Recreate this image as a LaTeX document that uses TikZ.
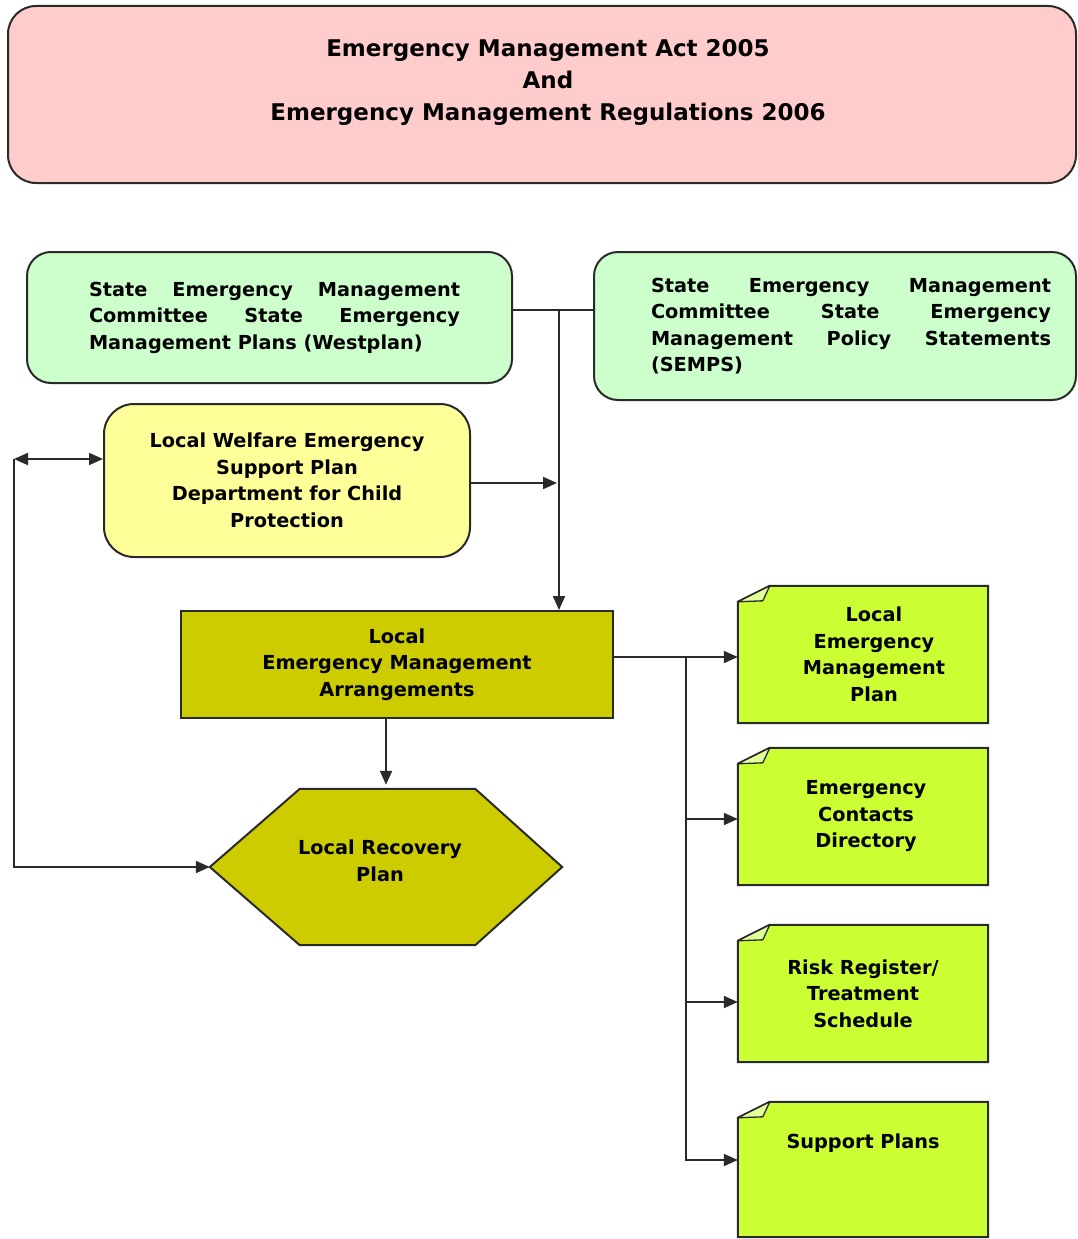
\documentclass[tikz,border=0pt]{standalone}
\usepackage{fontspec}
\setmainfont{DejaVu Sans}
\usetikzlibrary{arrows.meta,backgrounds,calc}
\definecolor{pinkfill}{HTML}{FFCCCC}
\definecolor{greenfill}{HTML}{CCFFCC}
\definecolor{yellowfill}{HTML}{FFFF99}
\definecolor{olivefill}{HTML}{CCCC00}
\definecolor{limefill}{HTML}{CCFF33}
\definecolor{foldfill}{HTML}{E2FF99}
\definecolor{linegray}{HTML}{2A2A2A}
\begin{document}
\begin{tikzpicture}[x=1pt,y=-1pt,
  txt/.style={font=\fontsize{19.3}{26.5}\selectfont\bfseries, align=center, text=black, inner sep=0pt},
  titletxt/.style={font=\fontsize{23}{32}\selectfont\bfseries, align=center, text=black, inner sep=0pt},
  box/.style={draw=linegray, line width=2pt, inner sep=0pt, txt},
  topbox/.style={box, fill=pinkfill, rounded corners=28pt, minimum width=1068pt, minimum height=177pt},
  greenbox/.style={box, fill=greenfill, rounded corners=24pt},
  yellowbox/.style={box, fill=yellowfill, rounded corners=30pt, minimum width=366pt, minimum height=153pt},
  lemabox/.style={box, fill=olivefill, minimum width=432pt, minimum height=107pt},
  hexbox/.style={txt, minimum width=352pt, minimum height=156pt},
  notebox/.style={txt, minimum width=250pt, minimum height=137pt},
  hexdraw/.style={draw=linegray, line width=2pt, fill=olivefill, line join=miter},
  notedraw/.style={draw=linegray, line width=2pt, fill=limefill, line join=miter},
  folddraw/.style={draw=linegray, line width=1.3pt, fill=foldfill, line join=round},
  conn/.style={draw=linegray, line width=2pt},
  arr/.style={conn, -{Triangle[length=14pt,width=12pt]}},
  dblarr/.style={conn, {Triangle[length=14pt,width=12pt]}-{Triangle[length=14pt,width=12pt]}}
]
\useasboundingbox (0,0) rectangle (1078,1239);

% top box
\node[topbox] (act) at (542,94.5) {};
\node[titletxt] (acttitle) at (548,82) {Emergency Management Act 2005\\And\\Emergency Management Regulations 2006};

% green boxes
\node[greenbox, minimum width=485pt, minimum height=131pt] (green1) at (269.5,317.5)
  {\hspace*{10pt}\makebox[371pt][s]{State Emergency Management}\\
   \hspace*{10pt}\makebox[371pt][s]{Committee State Emergency}\\
   \hspace*{10pt}\makebox[371pt][l]{Management Plans (Westplan)}};
\node[greenbox, minimum width=482pt, minimum height=148pt] (green2) at (835,326)
  {\hspace*{32pt}\makebox[400pt][s]{State Emergency Management}\\
   \hspace*{32pt}\makebox[400pt][s]{Committee State Emergency}\\
   \hspace*{32pt}\makebox[400pt][s]{Management Policy Statements}\\
   \hspace*{32pt}\makebox[400pt][l]{(SEMPS)}};

% yellow box
\node[yellowbox] (welfare) at (287,480.5) {Local Welfare Emergency\\Support Plan\\Department for Child\\Protection};

% LEMA
\node[lemabox] (lema) at (397,664.5) {Local\\Emergency Management\\Arrangements};

% hexagon
\node[hexbox] (hex) at (386,867) {};
\begin{scope}[on background layer]
\draw[hexdraw] (hex.west) -- ([xshift=90pt]hex.north west) -- ([xshift=-87pt]hex.north east)
  -- (hex.east) -- ([xshift=-87pt]hex.south east) -- ([xshift=90pt]hex.south west) -- cycle;
\end{scope}
\node[txt] (hextext) at (380,861) {Local Recovery\\Plan};

% notes
\node[notebox] (n1) at (863,654.5) {\hspace*{22pt}Local\\\hspace*{22pt}Emergency\\\hspace*{22pt}Management\\\hspace*{22pt}Plan};
\node[notebox] (n2) at (863,816.5) {\hspace*{6pt}Emergency\\\hspace*{6pt}Contacts\\\hspace*{6pt}Directory};
\node[notebox] (n3) at (863,993.5) {Risk Register/\\Treatment\\Schedule};
\node[notebox, minimum height=135pt] (n4) at (863,1169.5) {};
\node[txt] (n4text) at (863,1143) {Support Plans};
\begin{scope}[on background layer]
\foreach \n in {n1,n2,n3,n4}{
  \draw[notedraw] ([yshift=-16pt]\n.north west) -- ([xshift=32pt]\n.north west) -- (\n.north east)
    -- (\n.south east) -- (\n.south west) -- cycle;
  \draw[folddraw] ([yshift=-16pt]\n.north west) -- ([xshift=32pt]\n.north west)
    -- ([xshift=25pt,yshift=-15pt]\n.north west) -- cycle;
}
\end{scope}

% connectors
\coordinate (j1) at (559,310);
\draw[conn] (green1.east |- j1) -- (green2.west |- j1);
\draw[arr] (j1) -- (j1 |- lema.north);
\draw[arr] (welfare.east |- 0,483) -- ([xshift=-2pt]j1 |- 0,483);

\coordinate (lc) at (14,459);
\draw[dblarr] (lc) -- (welfare.west |- lc);
\draw[arr] (lc) |- (hex.west);

\draw[arr] (hex.north |- lema.south) -- ([yshift=4pt]hex.north);

\coordinate (rj) at (686,657);
\draw[arr] (lema.east |- rj) -- (n1.west |- rj);
\draw[arr] (rj) |- (n2.west |- 0,819);
\draw[arr] (rj) |- (n3.west |- 0,1002);
\draw[arr] (rj) |- (n4.west |- 0,1160);
\end{tikzpicture}
\end{document}
